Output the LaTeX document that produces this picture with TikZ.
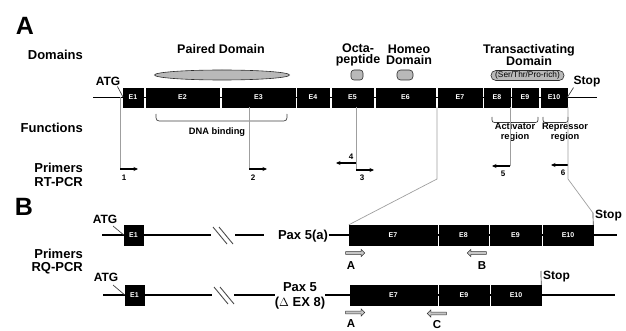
\documentclass[tikz,border=0pt]{standalone}
\usepackage{fontspec}
\setmainfont{Liberation Sans}
\usetikzlibrary{shapes.geometric,shapes.arrows,arrows.meta}
\begin{document}
\begin{tikzpicture}[x=1pt,y=-1pt,
  panel/.style={font=\bfseries\fontsize{25}{25}\selectfont, inner sep=0},
  lab/.style={font=\bfseries\fontsize{13}{14}\selectfont, inner sep=0, anchor=east},
  dom/.style={font=\bfseries\fontsize{12.5}{11.5}\selectfont, inner sep=0, align=center},
  tag/.style={font=\bfseries\fontsize{12}{12}\selectfont, inner sep=0},
  pax/.style={font=\bfseries\fontsize{13}{15.5}\selectfont, inner sep=0, align=center},
  func/.style={font=\bfseries\fontsize{9.3}{10}\selectfont, inner sep=0, align=center},
  num/.style={font=\bfseries\fontsize{8}{8}\selectfont, inner sep=0},
  plab/.style={font=\bfseries\fontsize{11.5}{11.5}\selectfont, inner sep=0},
  exon/.style={fill=black, draw=black, line width=0.4pt, text=white, font=\bfseries\fontsize{7}{7}\selectfont, inner sep=0, minimum height=19pt},
  exonb/.style={exon, minimum height=20pt},
  backbone/.style={line width=1.8pt, black},
  guide/.style={gray!75, line width=0.7pt},
  slant/.style={gray!50!black, line width=0.7pt},
  slashline/.style={gray!60!black, line width=0.9pt},
  prim/.style={-{Stealth[length=4.5pt,width=4pt]}, line width=1.1pt, black},
  dshape/.style={fill=gray!55, draw=gray!35!black, line width=0.6pt, inner sep=0, minimum height=10pt},
  blockarr/.style={single arrow, fill=gray!45, draw=gray!40!black, line width=0.5pt, minimum height=19pt, minimum width=7pt, single arrow head extend=1.6pt, inner sep=0.9pt},
  brace/.style={gray!50!black, line width=0.7pt}
]
\useasboundingbox (0,0) rectangle (626,331);

% ---------- Panel labels ----------
\node[panel] (pA) at (25,26) {A};
\node[panel] (pB) at (24,207) {B};

\node[lab] (lDom) at (83,55) {Domains};
\node[lab] (lFun) at (83,128) {Functions};
\node[lab] (lPr1) at (83,168) {Primers};
\node[lab] (lRT) at (83,182) {RT-PCR};
\node[lab] (lPr2) at (83,254) {Primers};
\node[lab] (lRQ) at (83,268) {RQ-PCR};

% ---------- Domain labels and shapes ----------
\node[dom] (tPD) at (221,49) {Paired Domain};
\node[dom] (tOct) at (358,55) {Octa-\\peptide};
\node[dom] (tHom) at (409,55) {Homeo\\Domain};
\node[dom] (tTA) at (529,55) {Transactivating\\Domain};

\node[dshape, ellipse, minimum width=135pt] (sPD) at (222,75) {};
\node[dshape, rounded corners=3pt, minimum width=12pt] (sOct) at (357,75) {};
\node[dshape, rounded corners=3.5pt, minimum width=16pt] (sHom) at (405,75) {};
\node[dshape, rounded corners=4.8pt, minimum width=73pt, font=\fontsize{8.3}{8}\selectfont] (sSP) at (527.5,75.5) {(Ser/Thr/Pro-rich)};

% ---------- Gene, panel A ----------
\coordinate (gA0) at (93,97.5);
\coordinate (gA1) at (597,97.5);
\draw[backbone] (gA0) -- (gA1);
\node[exon, minimum width=20pt] (a1) at (133,97.5) {E1};
\node[exon, minimum width=73pt] (a2) at (182.5,97.5) {E2};
\node[exon, minimum width=73pt] (a3) at (258.5,97.5) {E3};
\node[exon, minimum width=32pt] (a4) at (313,97.5) {E4};
\node[exon, minimum width=41pt] (a5) at (352.5,97.5) {E5};
\node[exon, minimum width=59pt] (a6) at (405.5,97.5) {E6};
\node[exon, minimum width=44pt] (a7) at (460,97.5) {E7};
\node[exon, minimum width=26pt] (a8) at (497,97.5) {E8};
\node[exon, minimum width=26pt] (a9) at (525,97.5) {E9};
\node[exon, minimum width=26pt] (a10) at (554,97.5) {E10};

\node[tag] (atgA) at (108,81) {ATG};
\coordinate (atgAe) at (123,97);
\draw[slant] (atgA.south east) ++(-3,1) coordinate (atgAs) -- (atgAe);
\node[tag] (stopA) at (587,82) {Stop};
\draw[slant] (a10.east) -- (stopA.south west);

% ---------- Functions ----------
\draw[brace] (156,114) .. controls (156,121) .. (163,121) -- (280,121) .. controls (287,121) .. (287,114);
\node[func] (fDNA) at (217,132) {DNA binding};
\draw[brace] (492,117) .. controls (492,122.5) .. (497,122.5) -- (533,122.5) .. controls (538,122.5) .. (538,117);
\draw[brace] (543,117) .. controls (543,122.5) .. (548,122.5) -- (563,122.5) .. controls (568,122.5) .. (568,117);
\node[func] (fAct) at (515,132) {Activator\\region};
\node[func] (fRep) at (565,132) {Repressor\\region};

% ---------- RT-PCR primers ----------
\coordinate (p1a) at (120,97.5);
\coordinate (p1b) at (120,169);
\coordinate (p1c) at (138,169);
\draw[guide] (p1a) -- (p1b);
\draw[prim] (p1b) -- (p1c);
\node[num] (n1) at (124,178) {1};

\coordinate (p2a) at (249,107);
\coordinate (p2b) at (249,169);
\coordinate (p2c) at (267,169);
\draw[guide] (p2a) -- (p2b);
\draw[prim] (p2b) -- (p2c);
\node[num] (n2) at (253,178) {2};

\coordinate (p3a) at (356,107);
\coordinate (p4b) at (356,163);
\coordinate (p4c) at (336,163);
\coordinate (p3b) at (356,170);
\coordinate (p3c) at (374,170);
\draw[guide] (p3a) -- (p3b);
\draw[prim] (p4b) -- (p4c);
\draw[prim] (p3b) -- (p3c);
\node[num] (n4) at (351,157) {4};
\node[num] (n3) at (362,177.5) {3};

\coordinate (p5a) at (510,107);
\coordinate (p5b) at (510,166);
\coordinate (p5c) at (492,166);
\draw[guide] (p5a) -- (p5b);
\draw[prim] (p5b) -- (p5c);
\node[num] (n5) at (503,174) {5};

\coordinate (p6a) at (568,107);
\coordinate (p6b) at (568,165);
\coordinate (p6c) at (551,165);
\draw[prim] (p6b) -- (p6c);
\node[num] (n6) at (563,173) {6};

% ---------- Panel B, row 1 : Pax 5(a) ----------
\coordinate (r1a) at (102,235);
\coordinate (r1b) at (211,235);
\coordinate (r1c) at (235,235);
\coordinate (r1d) at (264,235);
\coordinate (r1e) at (617,235);
\draw[backbone] (r1a) -- (r1b);
\draw[backbone] (r1c) -- (r1d);
\draw[slashline] (213,227) -- (227,244);
\draw[slashline] (219,227) -- (233,244);
\node[pax] (pax1) at (303,236) {Pax 5(a)};
\draw[backbone] (pax1.east) ++(0.5,-1) coordinate (pax1e) -- (349,235);
\node[exonb, minimum width=19pt] (b1) at (133.5,235) {E1};
\draw[backbone] (593,235) -- (r1e);
\node[exonb, minimum width=88pt] (b7) at (393,235) {E7};
\node[exonb, minimum width=49pt] (b8) at (463.5,235) {E8};
\node[exonb, minimum width=51pt] (b9) at (515.5,235) {E9};
\node[exonb, minimum width=50pt] (b10) at (568,235) {E10};
\draw[backbone] (b7.east) -- (b8.west) (b8.east) -- (b9.west) (b9.east) -- (b10.west);

\node[tag] (atgB1) at (105,219) {ATG};
\draw[slant] (113,226) -- (b1.west);
\coordinate (stB1) at (593,213);
\draw[slant] (b10.north east) -- (stB1);
\node[tag, anchor=west] (stopB1) at (595,216) {Stop};

% zoom lines from panel A to panel B
\coordinate (z7a) at (437,107);
\coordinate (z7b) at (437,179);
\draw[guide] (z7a) -- (z7b) -- (b7.north west);
\coordinate (z6b) at (568,179);
\draw[guide] (p6a) -- (z6b) -- (stB1);

% RQ-PCR primers row 1
\node[blockarr] (prA1) at (354.5,253) {};
\node[plab] (lA1) at (351,265.5) {A};
\node[blockarr, shape border rotate=180] (prB) at (477.5,253) {};
\node[plab] (lB) at (482,266) {B};

% ---------- Panel B, row 2 : Pax 5 (Delta EX 8) ----------
\coordinate (r2a) at (103,295);
\coordinate (r2b) at (212,295);
\coordinate (r2c) at (234,295);
\coordinate (r2d) at (275,295);
\coordinate (r2e) at (615,295);
\draw[backbone] (r2a) -- (r2b);
\draw[backbone] (r2c) -- (r2d);
\draw[slashline] (214,287) -- (228,304);
\draw[slashline] (220,287) -- (234,304);
\node[pax] (pax2) at (300,296) {Pax 5\\($\Delta$ EX 8)};
\coordinate (pax2e) at (325,295);
\draw[backbone] (pax2e) -- (350,295);
\draw[backbone] (541,295) -- (r2e);
\node[exonb, minimum width=19pt] (c1) at (134.5,295) {E1};
\node[exonb, minimum width=87pt] (c7) at (393.5,295) {E7};
\node[exonb, minimum width=50pt] (c9) at (464,295) {E9};
\node[exonb, minimum width=50pt] (c10) at (516,295) {E10};
\draw[backbone] (c7.east) -- (c9.west) (c9.east) -- (c10.west);

\node[tag] (atgB2) at (106,277) {ATG};
\draw[slant] (113,285) -- (c1.west);
\coordinate (stB2) at (541,271);
\draw[slant] (c10.north east) -- (stB2);
\node[tag, anchor=west] (stopB2) at (543,277) {Stop};

\node[blockarr] (prA2) at (354.5,312.5) {};
\node[plab] (lA2) at (351,324) {A};
\node[blockarr, shape border rotate=180] (prC) at (437.5,313.5) {};
\node[plab] (lC) at (437,324.5) {C};
\end{tikzpicture}
\end{document}
